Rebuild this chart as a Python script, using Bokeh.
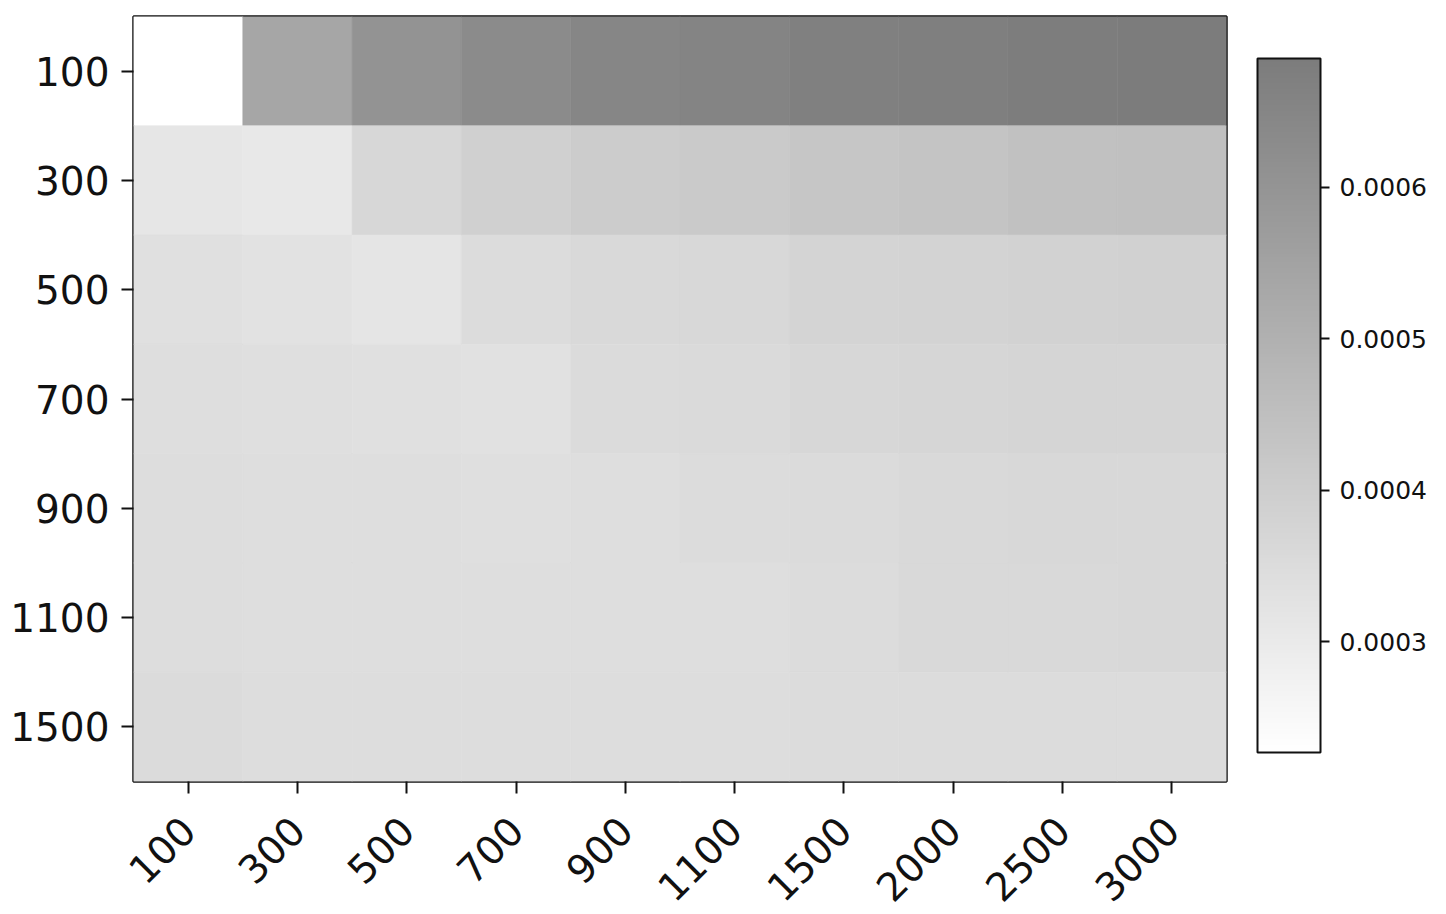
import math
from bokeh.plotting import figure
from bokeh.models import ColumnDataSource, LinearColorMapper, ColorBar, FixedTicker, PrintfTickFormatter
from bokeh.embed import file_html
from bokeh.resources import INLINE

# ---- data ----
col_labels = ["100", "300", "500", "700", "900", "1100", "1500", "2000", "2500", "3000"]
row_labels = ["100", "300", "500", "700", "900", "1100", "1500"]

row_100 = [0.000227, 0.000539, 0.000604, 0.000633, 0.000651, 0.000658, 0.000669, 0.000676, 0.000682, 0.000685]
row_300 = [0.000313, 0.000306, 0.000367, 0.000392, 0.000407, 0.000414, 0.000425, 0.000432, 0.000443, 0.000446]
row_500 = [0.000335, 0.000328, 0.000320, 0.000349, 0.000360, 0.000364, 0.000378, 0.000381, 0.000385, 0.000389]
row_700 = [0.000342, 0.000338, 0.000335, 0.000334, 0.000353, 0.000357, 0.000367, 0.000371, 0.000374, 0.000374]
row_900 = [0.000346, 0.000342, 0.000342, 0.000341, 0.000342, 0.000349, 0.000353, 0.000360, 0.000364, 0.000363]
row_1100 = [0.000346, 0.000345, 0.000342, 0.000344, 0.000345, 0.000345, 0.000352, 0.000359, 0.000358, 0.000362]
row_1500 = [0.000353, 0.000346, 0.000346, 0.000346, 0.000346, 0.000346, 0.000349, 0.000352, 0.000352, 0.000352]

rows_values = [row_100, row_300, row_500, row_700, row_900, row_1100, row_1500]
cbar_ticks = [0.0003, 0.0004, 0.0005, 0.0006]

xs, ys, vs = [], [], []
for r, vals in zip(row_labels, rows_values):
    for c, v in zip(col_labels, vals):
        xs.append(c)
        ys.append(r)
        vs.append(v)
src = ColumnDataSource(dict(x=xs, y=ys, v=vs))

all_vals = [v for row in rows_values for v in row]
vmin, vmax = min(all_vals), max(all_vals)

palette = []
for i in range(256):
    g = round(255 - (255 - 124) * i / 255)
    palette.append("#%02x%02x%02x" % (g, g, g))
mapper = LinearColorMapper(palette=palette, low=vmin, high=vmax)

FONT = "DejaVu Sans"

p = figure(frame_width=1093, frame_height=765, x_range=col_labels, y_range=list(reversed(row_labels)),
           output_backend="svg", toolbar_location=None,
           min_border_left=133, min_border_top=16, min_border_bottom=100, min_border_right=10)

p.rect(x="x", y="y", width=1, height=1, source=src,
       fill_color={"field": "v", "transform": mapper},
       line_color={"field": "v", "transform": mapper}, line_width=0.6)

p.outline_line_color = "#111111"
p.outline_line_width = 2.5
p.grid.grid_line_color = None
p.x_range.range_padding = 0
p.y_range.range_padding = 0

for ax in (p.xaxis[0], p.yaxis[0]):
    ax.axis_line_color = None
    ax.major_tick_line_color = "#111111"
    ax.major_tick_line_width = 2
    ax.major_tick_in = 0
    ax.major_tick_out = 12
    ax.minor_tick_line_color = None
    ax.major_label_text_font = FONT
    ax.major_label_text_font_size = "39px"
    ax.major_label_text_color = "#111111"
    ax.major_label_standoff = 12

p.xaxis.major_label_orientation = math.pi / 4
p.xaxis.major_label_standoff = 30

cb = ColorBar(color_mapper=mapper, width=63, height=694, location=(31, 29),
              padding=0, margin=0,
              ticker=FixedTicker(ticks=cbar_ticks),
              formatter=PrintfTickFormatter(format="%.4f"),
              major_tick_in=0, major_tick_out=9,
              major_tick_line_color="#111111", major_tick_line_width=2,
              major_label_text_font=FONT, major_label_text_font_size="25px",
              major_label_text_color="#111111", label_standoff=10,
              bar_line_color="#111111", bar_line_width=2,
              border_line_color=None, background_fill_alpha=0)
p.add_layout(cb, "right")

open("out.html", "w").write(file_html(p, INLINE))
